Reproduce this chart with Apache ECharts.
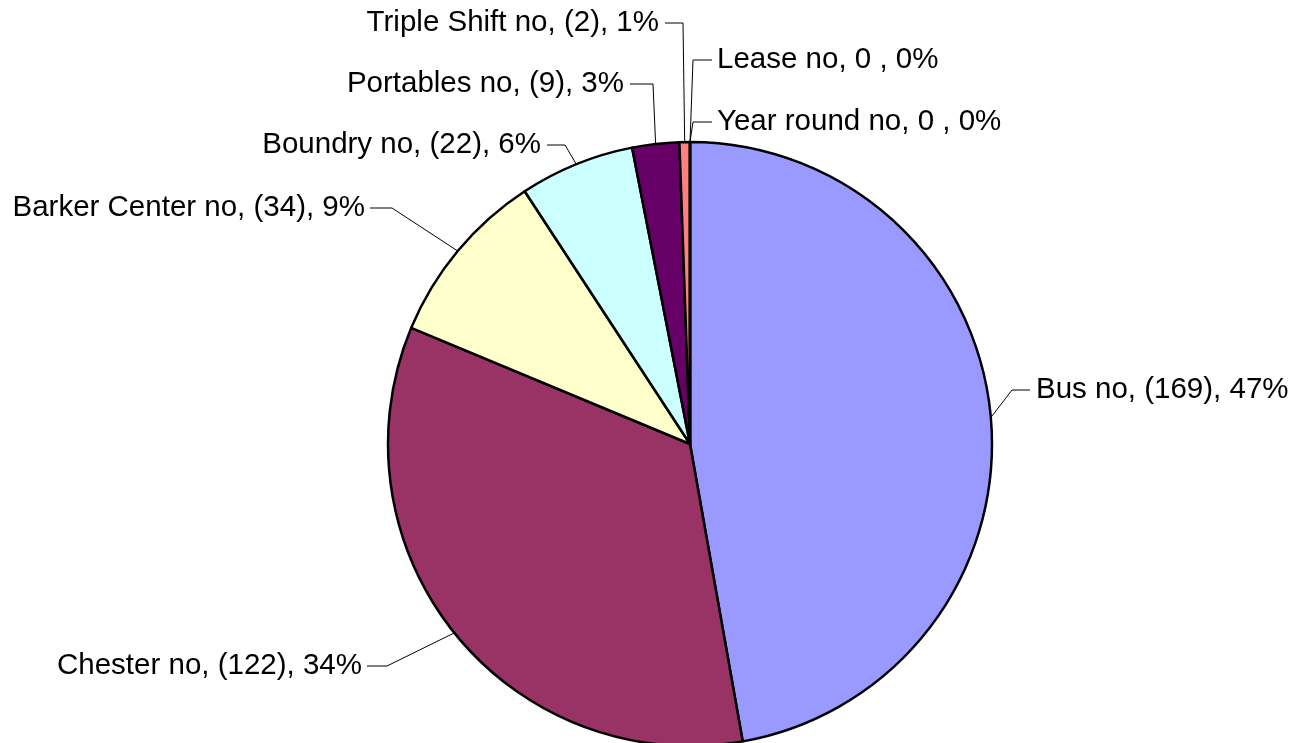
<!DOCTYPE html>
<html>
<head>
<meta charset="utf-8">
<script src="https://cdn.jsdelivr.net/npm/echarts@6/dist/echarts.min.js"></script>
<style>
  html, body { margin: 0; padding: 0; background: #fff; }
  #chart { width: 1299px; height: 743px; }
</style>
</head>
<body>
<div id="chart"></div>
<script>
// data
const categories = ['Bus no', 'Chester no', 'Barker Center no', 'Boundry no', 'Portables no', 'Triple Shift no', 'Lease no', 'Year round no'];
const counts = [169, 122, 34, 22, 9, 2, 0, 0];
const sliceColors = ['#9999FF', '#993366', '#FFFFCC', '#CCFFFF', '#660066', '#FF8080', '#0066CC', '#CCCCFF'];

const total = counts.reduce((a, b) => a + b, 0);

// where each label sits: [bendX, bendY, lineEndX, textX, align]
const labelSpots = [
  [1012, 390, 1030, 1036, 'left'],
  [387, 666, 367, 362, 'right'],
  [392, 208, 370, 365, 'right'],
  [565, 145, 547, 541, 'right'],
  [653, 84, 630, 624, 'right'],
  [683, 23, 665, 659, 'right'],
  [693, 60, 712, 717, 'left'],
  [693, 122, 712, 717, 'left']
];

const chart = echarts.init(document.getElementById('chart'));

chart.setOption({
  animation: false,
  backgroundColor: '#ffffff',
  series: [
    {
      type: 'pie',
      center: [690, 444],
      radius: 302,
      startAngle: 90,
      clockwise: true,
      avoidLabelOverlap: false,
      minShowLabelAngle: 0,
      data: categories.map((name, i) => ({
        name: name,
        value: counts[i],
        itemStyle: { color: sliceColors[i] }
      })),
      itemStyle: {
        borderColor: '#000000',
        borderWidth: 2.5
      },
      label: {
        show: true,
        position: 'outside',
        color: '#000000',
        fontFamily: 'Liberation Sans, Arial, sans-serif',
        fontSize: 29.5,
        formatter: (p) => {
          const v = counts[p.dataIndex];
          const pct = Math.round(v / total * 100);
          if (v === 0) return p.name + ', 0 , ' + pct + '%';
          return p.name + ', (' + v + '), ' + pct + '%';
        }
      },
      labelLine: {
        show: true,
        length: 20,
        length2: 20,
        lineStyle: { color: '#000000', width: 1 }
      },
      emphasis: { disabled: true },
      labelLayout: (params) => {
        const s = labelSpots[params.dataIndex];
        const start = params.labelLinePoints ? params.labelLinePoints[0] : [s[0], s[1]];
        return {
          x: s[3],
          y: s[1],
          align: s[4],
          verticalAlign: 'middle',
          labelLinePoints: [start, [s[0], s[1]], [s[2], s[1]]]
        };
      }
    }
  ]
});
</script>
</body>
</html>
